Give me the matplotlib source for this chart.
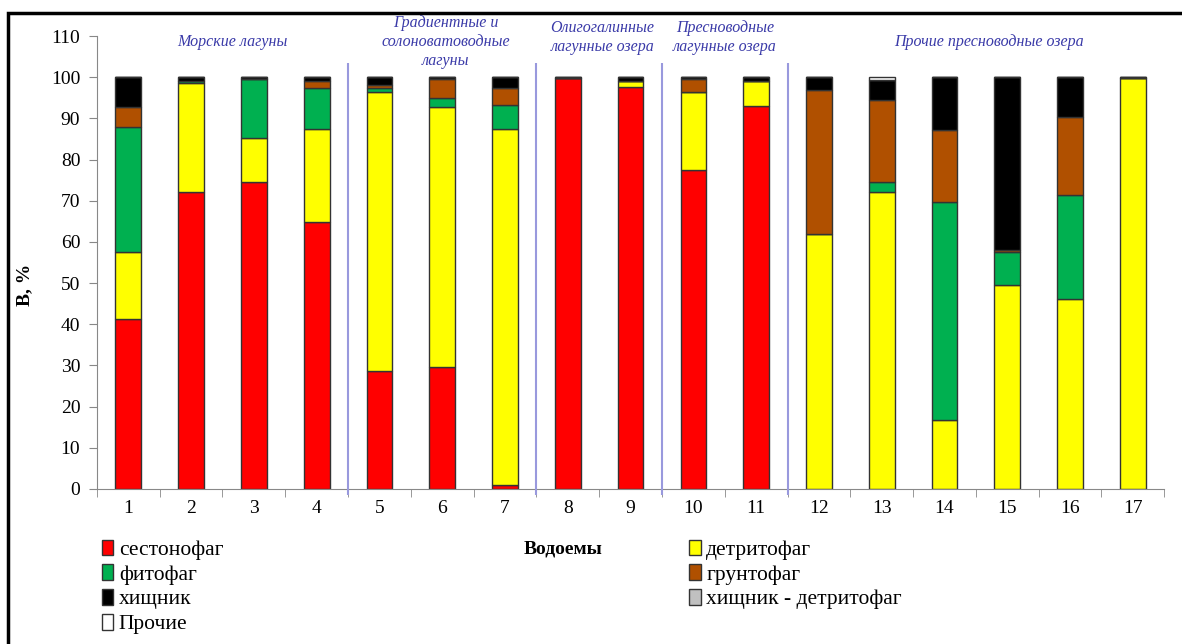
import matplotlib.pyplot as plt
import matplotlib.patches as mpatches
import numpy as np

# Data (percent of biomass by feeding group, water bodies 1..17)
vodoemy = [str(i) for i in range(1, 18)]
sestonofag = [41.2, 72.2, 74.5, 64.8, 28.7, 29.7, 1.0, 99.7, 97.7, 77.5, 93.0, 0, 0, 0, 0, 0, 0]
detritofag = [16.3, 26.3, 10.7, 22.7, 67.8, 63.0, 86.5, 0, 1.3, 18.8, 6.0, 62.0, 72.2, 16.7, 49.5, 46.2, 99.7]
fitofag = [30.3, 0.5, 14.3, 10.0, 0.8, 2.3, 5.8, 0, 0, 0, 0, 0, 2.3, 53.0, 8.0, 25.3, 0]
gruntofag = [5.0, 0, 0, 1.5, 0.7, 4.5, 4.2, 0, 0, 3.3, 0, 34.8, 20.0, 17.5, 0.5, 18.8, 0]
hishnik = [7.2, 1.0, 0.5, 1.0, 2.0, 0.5, 2.5, 0.3, 1.0, 0.4, 1.0, 3.2, 4.8, 12.8, 42.0, 9.7, 0.3]
hishnik_detr = [0] * 17
prochie = [0, 0, 0, 0, 0, 0, 0, 0, 0, 0, 0, 0, 0.7, 0, 0, 0, 0]

series = [
    ('сестонофаг', sestonofag, '#ff0000'),
    ('детритофаг', detritofag, '#ffff00'),
    ('фитофаг', fitofag, '#00b050'),
    ('грунтофаг', gruntofag, '#b05000'),
    ('хищник', hishnik, '#000000'),
    ('хищник - детритофаг', hishnik_detr, '#c0c0c0'),
    ('Прочие', prochie, '#ffffff'),
]

groups = ['Морские лагуны',
          'Градиентные и\nсолоноватоводные\nлагуны',
          'Олигогалинные\nлагунные озера',
          'Пресноводные\nлагунные озера',
          'Прочие пресноводные озера']
group_x = [2.65, 6.05, 8.55, 10.5, 14.7]
group_y = [108.5, 108.6, 109.6, 109.6, 108.5]
separators = [4.5, 7.5, 9.5, 11.5]

plt.rcParams['font.family'] = 'Liberation Serif'

fig = plt.figure(figsize=(11.82, 6.44), dpi=100)
ax = fig.add_axes([0.082, 0.2407, 0.903, 0.7033])

x = np.arange(1, 18)
bottom = np.zeros(17)
handles = {}
for name, vals, col in series:
    vals = np.array(vals, dtype=float)
    ax.bar(x, vals, 0.41, bottom=bottom, color=col, edgecolor='#333333', linewidth=1)
    bottom += vals
    handles[name] = mpatches.Patch(facecolor=col, edgecolor='#333333', linewidth=1)

ax.set_xlim(0.5, 17.5)
ax.set_ylim(0, 110)
ax.set_yticks(np.arange(0, 111, 10))
ax.set_xticks(x)
ax.set_xticklabels(vodoemy)
ax.set_xticks(np.arange(0.5, 17.6, 1), minor=True)
ax.tick_params(axis='x', which='major', length=0, labelsize=14, pad=8)
ax.tick_params(axis='x', which='minor', length=6, color='#888888', direction='out')
ax.tick_params(axis='y', length=6, color='#888888', labelsize=14, pad=6)
for s in ['top', 'right']:
    ax.spines[s].set_visible(False)
for s in ['left', 'bottom']:
    ax.spines[s].set_color('#888888')

ax.vlines(separators, -1.5, 103.5, color='#9999dd', linewidth=1.5, clip_on=False, zorder=3)

for g, gx, gy in zip(groups, group_x, group_y):
    ax.text(gx, gy, g, ha='center', va='center', fontsize=11.5, style='italic',
            color='#3a3aa8', linespacing=1.25)

ax.set_ylabel('В, %', fontsize=14, fontweight='bold')
ax.yaxis.set_label_coords(-0.06, 0.45)
fig.text(0.476, 0.148, 'Водоемы', ha='center', va='center', fontsize=14, fontweight='bold')

left = ['сестонофаг', 'фитофаг', 'хищник', 'Прочие']
right = ['детритофаг', 'грунтофаг', 'хищник - детритофаг']
for names, xpos in [(left, 0.086), (right, 0.583)]:
    fig.legend([handles[n] for n in names], names, loc='upper left',
               bbox_to_anchor=(xpos, 0.162), frameon=False, fontsize=15.5,
               handlelength=0.55, handleheight=0.75, handletextpad=0.25,
               labelspacing=0.2, borderpad=0, borderaxespad=0)

# outer frame of the picture
fig.add_artist(mpatches.Rectangle((8 / 1182, -0.1), 1.2, 0.1 + 1 - 13 / 644,
                                  transform=fig.transFigure, fill=False,
                                  edgecolor='black', linewidth=2.5, clip_on=False))

fig.savefig('out.png', dpi=100)
